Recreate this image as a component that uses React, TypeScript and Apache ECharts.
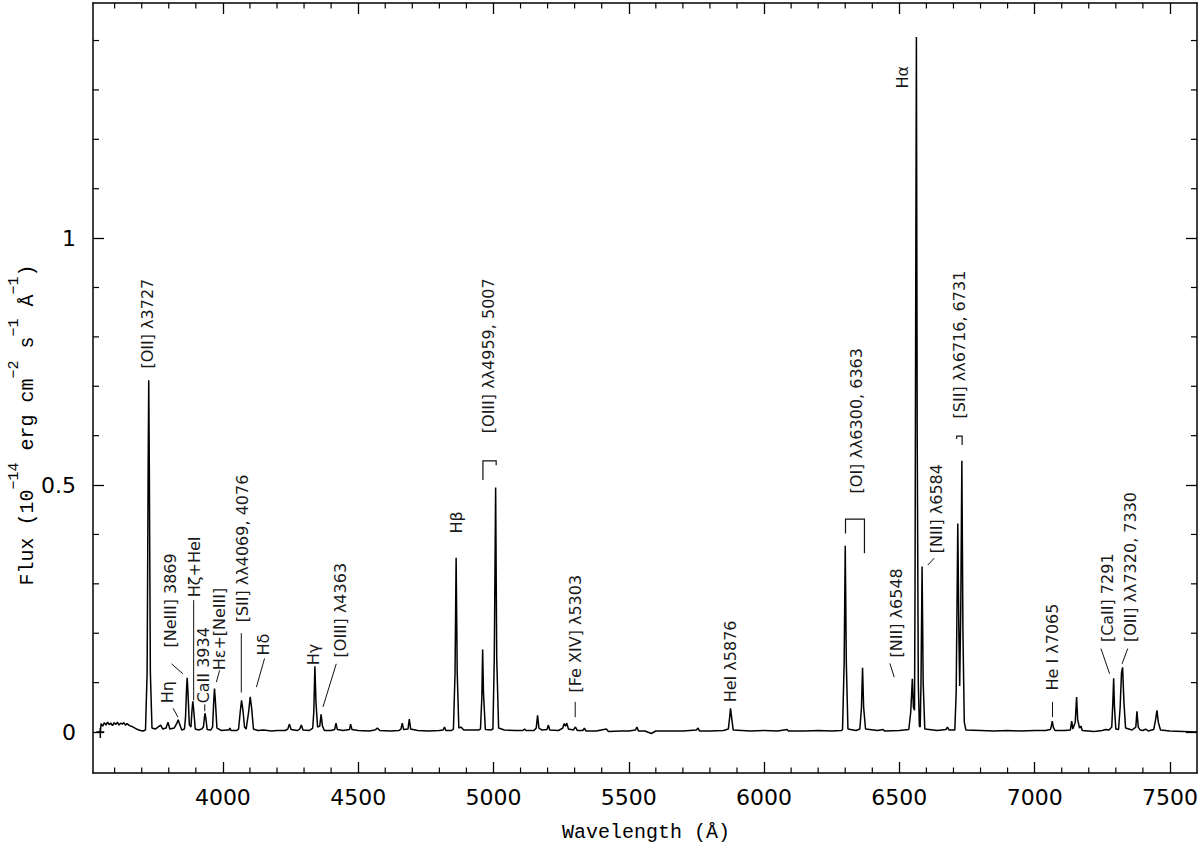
import React, { useEffect, useRef } from "react";
import * as echarts from "echarts";

// Axis ranges
const X_MIN = 3520;
const X_MAX = 7600;
const Y_MIN = -0.083;
const Y_MAX = 1.476;

// Tick values
const xMajorTicks = [4000, 4500, 5000, 5500, 6000, 6500, 7000, 7500];
const xMinorTicks: number[] = [];
for (let v = 3600; v <= 7500; v += 100) if (v % 500 !== 0) xMinorTicks.push(v);
const yMajorTicks = [0, 0.5, 1];
const yMinorTicks = [0.1, 0.2, 0.3, 0.4, 0.6, 0.7, 0.8, 0.9, 1.1, 1.2, 1.3, 1.4];

// Spectrum (wavelength in Å, flux in 1e-14 erg/cm2/s/Å)
const specBlue: [number, number][] = [
  [3547, 0.0], [3550, 0.017], [3556, 0.012], [3562, 0.019], [3568, 0.014], [3574, 0.02],
  [3580, 0.015], [3586, 0.018], [3592, 0.013], [3598, 0.019], [3604, 0.015], [3610, 0.02],
  [3616, 0.014], [3622, 0.018], [3628, 0.016], [3634, 0.019], [3640, 0.014], [3646, 0.017],
  [3655, 0.013], [3665, 0.011], [3675, 0.008], [3685, 0.005], [3695, 0.003], [3705, 0.002],
  [3714, 0.004], [3720, 0.12], [3724, 0.55], [3726, 0.712], [3728, 0.55], [3732, 0.12],
  [3738, 0.008], [3750, 0.006], [3760, 0.01], [3770, 0.014], [3778, 0.006], [3790, 0.008],
  [3797, 0.02], [3804, 0.006], [3820, 0.008], [3830, 0.018], [3835, 0.025], [3840, 0.016],
  [3848, 0.004], [3858, 0.006], [3862, 0.03], [3866, 0.09], [3868, 0.11], [3871, 0.08],
  [3876, 0.015], [3882, 0.01], [3886, 0.045], [3889, 0.062], [3892, 0.045], [3898, 0.006],
  [3910, 0.004], [3922, 0.006], [3928, 0.01], [3932, 0.03], [3934, 0.038], [3937, 0.028],
  [3942, 0.005], [3955, 0.004], [3962, 0.01], [3966, 0.06], [3969, 0.088], [3972, 0.065],
  [3978, 0.008], [3995, 0.003], [4015, 0.004], [4022, 0.004], [4026, 0.008], [4030, 0.003],
  [4050, 0.003], [4058, 0.006], [4064, 0.04], [4069, 0.064], [4074, 0.045], [4080, 0.01],
  [4086, 0.006], [4095, 0.04], [4101, 0.071], [4106, 0.05], [4113, 0.006], [4130, 0.003],
  [4150, 0.004], [4180, 0.002], [4200, 0.003], [4230, 0.003], [4240, 0.006], [4246, 0.016],
  [4252, 0.005], [4275, 0.003], [4284, 0.006], [4290, 0.014], [4296, 0.004], [4320, 0.003],
  [4332, 0.008], [4336, 0.04], [4340, 0.133], [4344, 0.06], [4350, 0.01], [4358, 0.012],
  [4363, 0.036], [4368, 0.012], [4375, 0.003], [4400, 0.003], [4413, 0.005], [4418, 0.018],
  [4423, 0.005], [4445, 0.003], [4468, 0.005], [4472, 0.016], [4477, 0.005], [4500, 0.003],
  [4540, 0.002], [4562, 0.004], [4571, 0.008], [4580, 0.003], [4620, 0.002], [4650, 0.003],
  [4658, 0.006], [4663, 0.018], [4668, 0.005], [4684, 0.006], [4689, 0.026], [4694, 0.006],
  [4720, 0.003], [4760, 0.002], [4800, 0.003], [4814, 0.004], [4819, 0.01], [4824, 0.003],
  [4845, 0.003],
];

const specMid: [number, number][] = [
  [4852, 0.006], [4858, 0.12], [4862, 0.353], [4866, 0.12], [4872, 0.008], [4880, 0.01],
  [4890, 0.004], [4920, 0.004], [4945, 0.004], [4952, 0.006], [4957, 0.07], [4960, 0.167],
  [4963, 0.08], [4970, 0.005], [4990, 0.004], [4998, 0.006], [5003, 0.15], [5008, 0.495],
  [5012, 0.15], [5019, 0.008], [5040, 0.004], [5080, 0.003], [5108, 0.003], [5115, 0.006],
  [5120, 0.003], [5150, 0.003], [5158, 0.008], [5163, 0.034], [5168, 0.008], [5180, 0.004],
  [5198, 0.005], [5203, 0.014], [5208, 0.004], [5240, 0.003], [5256, 0.008], [5261, 0.017],
  [5266, 0.012], [5271, 0.018], [5277, 0.006], [5295, 0.004], [5303, 0.01], [5310, 0.003],
  [5330, 0.003], [5336, 0.008], [5342, 0.002], [5380, 0.002], [5417, 0.006], [5425, 0.001],
  [5470, 0.002], [5500, 0.002], [5525, 0.004], [5530, 0.01], [5536, 0.002], [5560, 0.002],
  [5583, -0.003], [5600, 0.002], [5650, 0.002], [5700, 0.002], [5750, 0.004], [5756, 0.008],
  [5762, 0.002], [5800, 0.002], [5850, 0.003], [5868, 0.006], [5873, 0.03], [5876, 0.048],
  [5880, 0.03], [5886, 0.004], [5950, 0.002], [6000, 0.003], [6050, 0.002], [6085, 0.005],
  [6090, 0.002], [6150, 0.002], [6200, 0.003], [6250, 0.002], [6285, 0.003],
];

const specRed: [number, number][] = [
  [6290, 0.005], [6296, 0.14], [6300, 0.377], [6304, 0.14], [6310, 0.006], [6340, 0.003],
  [6354, 0.006], [6360, 0.05], [6364, 0.13], [6368, 0.05], [6375, 0.006], [6420, 0.003],
  [6440, 0.005], [6445, 0.002], [6500, 0.003], [6535, 0.005], [6542, 0.04], [6548, 0.108],
  [6552, 0.05], [6556, 0.044], [6558, 0.3], [6561, 1.0], [6563, 1.407], [6566, 0.6],
  [6570, 0.1], [6574, 0.012], [6577, 0.01], [6580, 0.1], [6584, 0.335], [6588, 0.1],
  [6594, 0.006], [6640, 0.003], [6672, 0.005], [6678, 0.01], [6684, 0.004], [6705, 0.004],
  [6710, 0.08], [6716, 0.422], [6720, 0.2], [6723, 0.093], [6727, 0.25], [6731, 0.549],
  [6735, 0.2], [6740, 0.02], [6746, 0.004], [6800, 0.003], [6850, 0.002], [6900, 0.003],
  [6950, 0.002], [7000, 0.003], [7040, 0.003], [7058, 0.005], [7062, 0.012], [7065, 0.022],
  [7069, 0.01], [7075, 0.003], [7110, 0.003], [7132, 0.004], [7137, 0.022], [7141, 0.006],
  [7150, 0.02], [7155, 0.071], [7159, 0.025], [7166, 0.008], [7171, 0.012], [7176, 0.003],
  [7220, 0.001], [7250, 0.003], [7262, 0.005], [7275, 0.004], [7285, 0.01], [7289, 0.06],
  [7292, 0.109], [7295, 0.05], [7300, 0.006], [7310, 0.005], [7316, 0.05], [7321, 0.12],
  [7325, 0.131], [7330, 0.06], [7336, 0.008], [7360, 0.004], [7374, 0.01], [7378, 0.042],
  [7383, 0.01], [7390, 0.004], [7400, 0.003], [7410, 0.006], [7420, 0.002], [7440, 0.005],
  [7447, 0.025], [7452, 0.044], [7457, 0.02], [7465, 0.004], [7500, 0.002], [7550, 0.001],
  [7600, 0.0],
];

// Start marker
const startMarker: [number, number][] = [[3547, 0.0]];

// Line identifications: [text, wavelength, flux] = bottom end of the rotated text
const lineLabels: [string, number, number][] = [
  ["[OII] λ3727", 3722, 0.736],
  ["Hη", 3794, 0.058],
  ["[NeIII] 3869", 3807, 0.171],
  ["Hζ+HeI", 3896, 0.273],
  ["CaII 3934", 3929, 0.058],
  ["Hε+[NeIII]", 3988, 0.125],
  ["[SII] λλ4069, 4076", 4073, 0.222],
  ["Hδ", 4151, 0.155],
  ["Hγ", 4335, 0.135],
  ["[OIII] λ4363", 4435, 0.151],
  ["Hβ", 4865, 0.402],
  ["[OIII] λλ4959, 5007", 4982, 0.605],
  ["[Fe XIV] λ5303", 5302, 0.08],
  ["HeI λ5876", 5876, 0.06],
  ["[OI] λλ6300, 6363", 6341, 0.483],
  ["[NII] λ6548", 6489, 0.151],
  ["[NII] λ6584", 6637, 0.362],
  ["[SII] λλ6716, 6731", 6724, 0.635],
  ["He I λ7065", 7065, 0.084],
  ["[CaII] 7291", 7268, 0.182],
  ["[OII] λλ7320, 7330", 7355, 0.182],
  ["Hα", 6513, 1.303],
];

// Leader lines: [λ1, f1, λ2, f2]
const leaders: [number, number, number, number][] = [
  [3816, 0.048, 3834, 0.03],
  [3810, 0.138, 3852, 0.118],
  [3892, 0.267, 3892, 0.064],
  [3933, 0.056, 3933, 0.042],
  [3988, 0.125, 3976, 0.101],
  [4068, 0.2, 4068, 0.08],
  [4154, 0.149, 4124, 0.091],
  [4419, 0.138, 4370, 0.051],
  [5302, 0.061, 5302, 0.03],
  [6465, 0.139, 6481, 0.111],
  [6629, 0.352, 6605, 0.338],
  [7066, 0.061, 7066, 0.03],
  [7245, 0.169, 7277, 0.118],
  [7344, 0.169, 7323, 0.138],
];

// Doublet brackets: polylines of [λ, f]
const brackets: [number, number][][] = [
  [[4961, 0.510], [4961, 0.549], [5010, 0.549], [5010, 0.540]],
  [[6301, 0.402], [6301, 0.431], [6371, 0.431], [6371, 0.362]],
  [[6712, 0.593], [6712, 0.599], [6732, 0.599], [6732, 0.581]],
];

const TICK_FONT = '"DejaVu Sans", sans-serif';
const MONO_FONT = '"Liberation Mono", "DejaVu Sans Mono", monospace';
const ANNOT_FONT = '16px "DejaVu Sans", sans-serif';

export default function App() {
  const ref = useRef<HTMLDivElement>(null);

  useEffect(() => {
    document.body.style.margin = "0";
    if (!ref.current) return;
    const chart = echarts.init(ref.current, undefined, { renderer: "svg" });

    const spectrum = [...specBlue, ...specMid, ...specRed];

    const axisLine = { show: true, onZero: false, lineStyle: { color: "#000", width: 1.5 } };
    const majorTick = { show: true, inside: true, length: 11, lineStyle: { color: "#000", width: 1.3 } };
    const xBase = { type: "value", min: X_MIN, max: X_MAX, splitLine: { show: false }, axisLine };
    const yBase = { type: "value", min: Y_MIN, max: Y_MAX, splitLine: { show: false }, axisLine };
    const plain = (v: number) => String(v);

    const option: any = {
      animation: false,
      backgroundColor: "#fff",
      grid: { left: 93, right: 3, top: 3, bottom: 76, containLabel: false, outerBoundsMode: "none" },
      xAxis: [
        {
          ...xBase,
          position: "bottom",
          axisTick: { ...majorTick, customValues: xMajorTicks },
          axisLabel: {
            show: true,
            customValues: xMajorTicks,
            formatter: plain,
            margin: 13,
            color: "#000",
            fontFamily: TICK_FONT,
            fontSize: 22,
          },
        },
        {
          ...xBase,
          position: "top",
          axisTick: { ...majorTick, customValues: xMajorTicks },
          axisLabel: { show: false },
        },
      ],
      yAxis: [
        {
          ...yBase,
          position: "left",
          axisTick: { ...majorTick, customValues: yMajorTicks },
          axisLabel: {
            show: true,
            customValues: yMajorTicks,
            formatter: plain,
            margin: 17,
            color: "#000",
            fontFamily: TICK_FONT,
            fontSize: 22,
          },
        },
        {
          ...yBase,
          position: "right",
          axisTick: { ...majorTick, customValues: yMajorTicks },
          axisLabel: { show: false },
        },
      ],
      series: [
        {
          type: "line",
          data: spectrum,
          showSymbol: false,
          symbol: "none",
          lineStyle: { color: "#000", width: 1.5 },
          silent: true,
          z: 3,
        },
        // minor ticks on x (bottom and top)
        {
          type: "custom",
          silent: true,
          data: xMinorTicks.map((v) => [v]),
          encode: { x: 0 },
          renderItem: (params: any, api: any) => {
            const v = api.value(0);
            const b = api.coord([v, Y_MIN]);
            const t = api.coord([v, Y_MAX]);
            const st = { stroke: "#000", lineWidth: 1.2 };
            return {
              type: "group",
              children: [
                { type: "line", shape: { x1: b[0], y1: b[1], x2: b[0], y2: b[1] - 5.5 }, style: st },
                { type: "line", shape: { x1: t[0], y1: t[1], x2: t[0], y2: t[1] + 5.5 }, style: st },
              ],
            };
          },
        },
        // minor ticks on y (left and right)
        {
          type: "custom",
          silent: true,
          data: yMinorTicks.map((v) => [X_MIN, v]),
          encode: { x: 0, y: 1 },
          renderItem: (params: any, api: any) => {
            const v = api.value(1);
            const l = api.coord([X_MIN, v]);
            const r = api.coord([X_MAX, v]);
            const st = { stroke: "#000", lineWidth: 1.2 };
            return {
              type: "group",
              children: [
                { type: "line", shape: { x1: l[0], y1: l[1], x2: l[0] + 6, y2: l[1] }, style: st },
                { type: "line", shape: { x1: r[0], y1: r[1], x2: r[0] - 6, y2: r[1] }, style: st },
              ],
            };
          },
        },
        // start marker "+"
        {
          type: "custom",
          silent: true,
          data: startMarker,
          encode: { x: 0, y: 1 },
          renderItem: (params: any, api: any) => {
            const p = api.coord([api.value(0), api.value(1)]);
            const st = { stroke: "#000", lineWidth: 1.5 };
            return {
              type: "group",
              children: [
                { type: "line", shape: { x1: p[0] - 4, y1: p[1], x2: p[0] + 4, y2: p[1] }, style: st },
                { type: "line", shape: { x1: p[0], y1: p[1] - 4, x2: p[0], y2: p[1] + 6 }, style: st },
              ],
            };
          },
        },
        // leader lines
        {
          type: "custom",
          silent: true,
          data: leaders,
          encode: { x: [0, 2], y: [1, 3] },
          renderItem: (params: any, api: any) => {
            const p1 = api.coord([api.value(0), api.value(1)]);
            const p2 = api.coord([api.value(2), api.value(3)]);
            return {
              type: "line",
              shape: { x1: p1[0], y1: p1[1], x2: p2[0], y2: p2[1] },
              style: { stroke: "#111", lineWidth: 1 },
            };
          },
        },
        // brackets
        {
          type: "custom",
          silent: true,
          data: brackets.map((b, i) => [b[0][0], b[0][1], i]),
          encode: { x: 0, y: 1 },
          renderItem: (params: any, api: any) => {
            const pts = brackets[params.dataIndex].map((p) => api.coord(p));
            return {
              type: "polyline",
              shape: { points: pts },
              style: { stroke: "#111", lineWidth: 1.2, fill: "none" },
            };
          },
        },
        // line identification labels
        {
          type: "custom",
          silent: true,
          data: lineLabels.map((l, i) => [l[1], l[2], i]),
          encode: { x: 0, y: 1 },
          renderItem: (params: any, api: any) => {
            const item = lineLabels[params.dataIndex];
            const p = api.coord([item[1], item[2]]);
            return {
              type: "text",
              x: p[0],
              y: p[1],
              rotation: Math.PI / 2,
              style: {
                text: item[0],
                font: ANNOT_FONT,
                fill: "#1a1a1a",
                align: "left",
                verticalAlign: "middle",
              },
            };
          },
        },
      ],
      graphic: [
        {
          type: "text",
          left: 645 - 83,
          top: 822,
          style: {
            text: "Wavelength (Å)",
            font: `20px ${MONO_FONT}`,
            fill: "#000",
          },
        },
        {
          type: "text",
          x: 22,
          y: 425,
          rotation: Math.PI / 2,
          style: {
            text: "{a|Flux (10}{s|−14}{a| erg cm}{s|−2}{a| s}{s|−1}{a| Å}{s|−1}{a|)}",
            align: "center",
            verticalAlign: "middle",
            fill: "#000",
            rich: {
              a: { fontFamily: MONO_FONT, fontSize: 20, lineHeight: 30, verticalAlign: "bottom", fill: "#000" },
              s: { fontFamily: MONO_FONT, fontSize: 15, lineHeight: 30, verticalAlign: "top", fill: "#000" },
            },
          },
        },
      ],
    };

    chart.setOption(option);
    return () => chart.dispose();
  }, []);

  return <div ref={ref} style={{ width: 1200, height: 849 }} />;
}
